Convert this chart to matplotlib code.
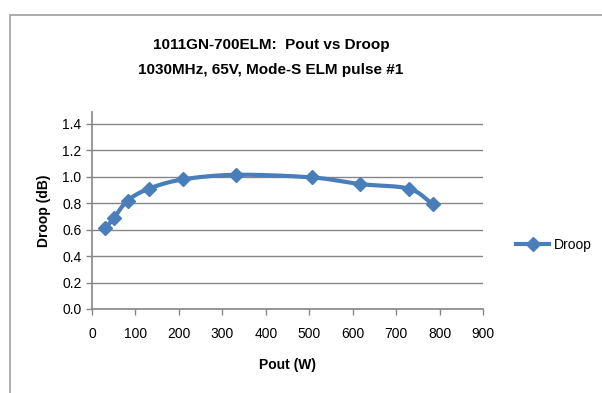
import numpy as np
import matplotlib.pyplot as plt
from matplotlib.lines import Line2D
from matplotlib.patches import Rectangle

# values
pout = [31, 51, 82, 131, 209, 332, 507, 616, 729, 784]
droop = [0.61, 0.69, 0.82, 0.91, 0.98, 1.015, 0.995, 0.945, 0.91, 0.795]
x_ticks = [0, 100, 200, 300, 400, 500, 600, 700, 800, 900]
y_ticks = [0.0, 0.2, 0.4, 0.6, 0.8, 1.0, 1.2, 1.4]

plt.rcParams['font.family'] = ['Liberation Sans', 'DejaVu Sans']

blue = '#4A7EBB'
grey = '#868686'


def smooth(xs, ys, n=30):
    # catmull-rom through the points, like excel's smoothed line
    px = np.array(xs, float)
    py = np.array(ys, float)
    px = np.concatenate([[2 * px[0] - px[1]], px, [2 * px[-1] - px[-2]]])
    py = np.concatenate([[2 * py[0] - py[1]], py, [2 * py[-1] - py[-2]]])
    ox, oy = [], []
    t = np.linspace(0, 1, n)
    for i in range(1, len(px) - 2):
        for arr, out in ((px, ox), (py, oy)):
            p0, p1, p2, p3 = arr[i - 1], arr[i], arr[i + 1], arr[i + 2]
            out.extend(0.5 * (2 * p1 + (-p0 + p2) * t
                              + (2 * p0 - 5 * p1 + 4 * p2 - p3) * t ** 2
                              + (-p0 + 3 * p1 - 3 * p2 + p3) * t ** 3))
    return ox, oy


fig = plt.figure(figsize=(6.02, 3.93), dpi=100)
fig.patches.append(Rectangle((10 / 602, -0.1), 1.2, (393 - 15) / 393 + 0.1,
                             transform=fig.transFigure, fill=False,
                             edgecolor='#A0A0A0', linewidth=1.2))

ax = fig.add_axes([92 / 602, (393 - 309) / 393, 391 / 602, 197 / 393])
ax.set_xlim(0, 900)
ax.set_ylim(0, 1.49)

sx, sy = smooth(pout, droop)
ax.plot(sx, sy, color=blue, linewidth=3, solid_capstyle='round', zorder=3)
ax.plot(pout, droop, linestyle='none', marker='D', markersize=7.5,
        color=blue, zorder=4)

ax.set_xticks(x_ticks)
ax.set_yticks(y_ticks)
ax.set_yticklabels([f'{v:.1f}' for v in y_ticks])
ax.yaxis.grid(True, color=grey, linewidth=1)
ax.set_axisbelow(True)
for s in ['top', 'right']:
    ax.spines[s].set_visible(False)
for s in ['left', 'bottom']:
    ax.spines[s].set_color(grey)
    ax.spines[s].set_linewidth(1.2)
ax.tick_params(colors=grey, labelcolor='black', labelsize=10, length=4, width=1)
ax.tick_params(axis='x', pad=9)

ax.set_xlabel('Pout (W)', fontsize=10, fontweight='bold', labelpad=12)
ax.set_ylabel('Droop (dB)', fontsize=10, fontweight='bold', labelpad=8)

fig.text(271 / 602, 1 - 45 / 393, '1011GN-700ELM:  Pout vs Droop',
         ha='center', va='center', fontsize=11, fontweight='bold')
fig.text(271 / 602, 1 - 70 / 393, '1030MHz, 65V, Mode-S ELM pulse #1',
         ha='center', va='center', fontsize=11, fontweight='bold')

handle = Line2D([], [], color=blue, linewidth=3, marker='D', markersize=7.5)
fig.legend([handle], ['Droop'], loc='center left',
           bbox_to_anchor=(516 / 602, 1 - 245 / 393), frameon=False,
           fontsize=10, handlelength=2.4, handletextpad=0.3,
           borderpad=0, borderaxespad=0)

fig.savefig('out.png', dpi=100)
